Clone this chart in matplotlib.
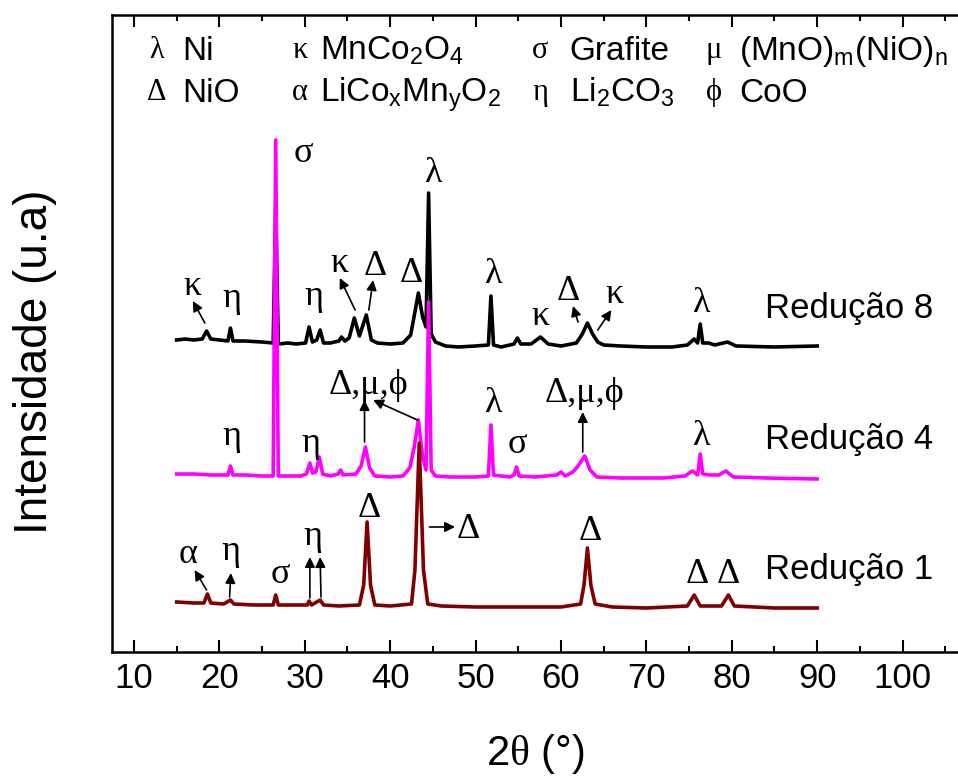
import matplotlib
matplotlib.use("Agg")
import numpy as np
import matplotlib.pyplot as plt
from matplotlib.ticker import MultipleLocator

plt.rcParams["font.family"] = ["Liberation Sans", "DejaVu Sans"]
plt.rcParams["mathtext.fontset"] = "custom"
plt.rcParams["mathtext.rm"] = "Liberation Serif"
plt.rcParams["mathtext.default"] = "regular"

# --- data (2theta in degrees, intensity in a.u.) ---
tt_r8 = [15.0, 16.0, 17.0, 18.0, 18.5, 19.0, 20.0, 21.0, 21.3, 21.6, 23.0, 25.0,
         26.3, 26.6, 26.9, 28.0, 29.0, 30.1, 30.5, 30.9, 31.4, 31.8, 32.2, 33.0,
         34.0, 34.3, 34.7, 35.2, 35.8, 36.4, 37.2, 37.8, 38.5, 40.0, 41.5, 42.4,
         42.9, 43.3, 43.8, 44.2, 44.5, 44.8, 45.3, 46.5, 48.0, 50.0, 51.5, 51.8,
         52.1, 53.0, 54.5, 54.9, 55.3, 56.5, 57.6, 58.5, 60.0, 61.8, 62.5, 63.1,
         63.7, 64.3, 65.0, 67.0, 70.0, 73.0, 74.8, 75.6, 76.0, 76.3, 76.6, 77.3,
         78.0, 79.5, 80.5, 85.0, 90.0]
int_r8 = [6, 7, 6, 7, 15, 7, 6, 5, 18, 5, 5, 4,
          3, 141, 2, 3, 2, 3, 19, 4, 6, 16, 3, 3,
          5, 9, 5, 8, 28, 10, 31, 6, 3, 2, 3, 11,
          34, 53, 29, 19, 153, 12, 4, 0, -1, 0, 1, 50,
          1, -1, 2, 8, 2, 2, 9, 2, 0, 3, 12, 23,
          12, 4, 1, 0, -1, -1, 1, 7, 3, 22, 3, 3,
          1, 4, 0, -1, 0]

tt_r4 = [15.0, 17.0, 19.0, 21.0, 21.3, 21.6, 23.0, 25.0, 26.3, 26.6, 26.9, 28.0,
         29.5, 30.2, 30.6, 30.9, 31.3, 31.7, 32.1, 33.0, 33.9, 34.2, 34.5, 36.0,
         36.6, 37.1, 37.6, 38.2, 40.0, 41.5, 42.3, 42.8, 43.3, 43.8, 44.2, 44.5,
         44.8, 45.3, 47.0, 50.0, 51.5, 51.8, 52.1, 54.0, 54.5, 54.8, 55.1, 57.0,
         59.5, 60.0, 60.5, 61.4, 62.0, 62.8, 63.4, 64.2, 67.0, 72.0, 74.5, 75.4,
         76.0, 76.3, 76.6, 77.5, 78.5, 79.3, 80.2, 84.0, 90.0]
int_r4 = [3, 3, 2, 2, 11, 2, 2, 1, 1, 337, 1, 1,
          1, 3, 14, 4, 5, 20, 3, 1, 3, 7, 2, 3,
          11, 30, 9, 1, 0, 1, 9, 29, 57, 20, 7, 175,
          7, 1, 0, 0, 1, 52, 2, 0, 2, 10, 1, 0,
          2, 5, 1, 5, 11, 21, 7, 0, -1, -1, 1, 6,
          2, 23, 3, 2, 2, 6, 0, -1, -2]

tt_r1 = [15.0, 17.0, 18.2, 18.6, 19.0, 20.5, 21.3, 21.7, 24.0, 26.3, 26.6, 26.9,
         28.0, 30.3, 30.5, 30.8, 31.8, 32.2, 34.0, 36.4, 36.9, 37.3, 37.7, 38.2,
         40.0, 42.5, 42.9, 43.4, 43.9, 44.4, 46.0, 50.0, 55.0, 60.0, 62.3, 62.7,
         63.1, 63.5, 64.0, 66.0, 70.0, 74.8, 75.6, 76.3, 78.8, 79.6, 80.3, 85.0,
         90.0]
int_r1 = [5, 4, 4, 13, 4, 3, 7, 3, 2, 2, 12, 2,
          2, 2, 6, 2, 7, 2, 1, 2, 22, 85, 22, 2,
          1, 3, 37, 164, 37, 3, 1, 0, 0, 0, 3, 22,
          59, 22, 3, 0, -1, 1, 12, 1, 1, 12, 1, -1,
          -1]

offsets = [306, 175, 45]
names = ["Redução 8", "Redução 4", "Redução 1"]
colors = ["black", "#ff00ff", "#800000"]

# peak labels: (text, 2theta, intensity)
labels = [
    ("κ", 16.8, 357), ("η", 21.5, 345), ("σ", 29.8, 490), ("η", 31.1, 347),
    ("κ", 34.1, 380), ("Δ", 38.2, 377), ("Δ", 42.5, 370), ("λ", 45.1, 470),
    ("λ", 52.1, 369), ("κ", 57.6, 327), ("Δ", 60.9, 352), ("κ", 66.3, 349),
    ("λ", 76.5, 340),
    ("η", 21.5, 207), ("η", 30.7, 200), ("Δ,μ,ϕ", 37.4, 258), ("λ", 52.1, 240),
    ("σ", 54.9, 199), ("Δ,μ,ϕ", 62.8, 250), ("λ", 76.5, 207),
    ("α", 16.3, 89), ("η", 21.4, 92), ("σ", 27.1, 69), ("η", 31.0, 107),
    ("Δ", 37.5, 135), ("Δ", 49.2, 114), ("Δ", 63.4, 112), ("Δ", 75.9, 69),
    ("Δ", 79.6, 69),
]
# arrows: (from peak, to label)
arrows = [
    ((18.3, 329), (16.9, 351)), ((35.9, 342), (34.1, 374)),
    ((37.5, 342), (38.0, 372)), ((62.0, 330), (61.4, 346)),
    ((64.3, 322), (65.9, 342)),
    ((37.0, 210), (37.0, 252)), ((43.2, 232), (38.0, 252)),
    ((62.55, 200), (62.55, 240)),
    ((18.5, 62), (17.1, 82)), ((21.2, 55), (21.35, 79)),
    ((30.6, 54), (30.6, 95)), ((31.9, 55), (31.8, 95)),
    ((44.6, 125), (47.6, 125)),
]

# phase key at the top: (symbol, name)
key_symbols = ["λ", "κ", "σ", "μ", "Δ", "α", "η", "ϕ"]
key_names = ["Ni", "MnCo$_2$O$_4$", "Grafite", "(MnO)$_m$(NiO)$_n$",
             "NiO", "LiCo$_x$Mn$_y$O$_2$", "Li$_2$CO$_3$", "CoO"]

fig = plt.figure(figsize=(9.58, 7.81), dpi=100)
ax = fig.add_axes([112 / 958, 129 / 781, 876 / 958, 637 / 781])

traces = [(tt_r8, int_r8), (tt_r4, int_r4), (tt_r1, int_r1)]
for i, (tt, inten) in enumerate(traces):
    ax.plot(tt, np.array(inten) + offsets[i], color=colors[i], lw=2.6,
            solid_joinstyle="round", zorder=2 + i)
    ax.text(83.85, offsets[i] + 28, names[i], fontsize=25, va="baseline")

for txt, x, y in labels:
    ax.text(x, y, txt, fontsize=26, family="Liberation Serif", ha="center", va="baseline")

for (x0, y0), (x1, y1) in arrows:
    ax.annotate("", xy=(x1, y1), xytext=(x0, y0),
                arrowprops=dict(arrowstyle="-|>", color="black", lw=1.2,
                                mutation_scale=15, shrinkA=0, shrinkB=0))

# key: two rows, four columns
sym_x = [12.7, 29.4, 57.6, 77.9]
name_x = [15.7, 31.8, 61.0, 80.9]
row_y = [592, 550]
for k in range(8):
    r, c = divmod(k, 4)
    ax.text(sym_x[c], row_y[r] + 2, key_symbols[k], fontsize=22,
            family="Liberation Serif", ha="center", va="baseline")
    ax.text(name_x[c], row_y[r], key_names[k], fontsize=24, va="baseline")

ax.set_xlim(7.43, 110)
ax.set_ylim(0, 637)
ax.set_xticks(range(10, 101, 10))
ax.xaxis.set_minor_locator(MultipleLocator(5))
ax.set_yticks([])
ax.tick_params(which="both", direction="in", top=True, width=1.5, labelsize=25, pad=7)
ax.tick_params(which="major", length=8.5)
ax.tick_params(which="minor", length=4.5)
for s in ax.spines.values():
    s.set_linewidth(1.8)

fig.text(35 / 958, 1 - 362 / 781, "Intensidade (u.a)", rotation=90, fontsize=33,
         ha="center", va="center")
fig.text(535 / 958, 1 - 754 / 781, r"2$\mathrm{\theta}$ (°)", fontsize=30,
         ha="center", va="center")

fig.savefig("out.png", dpi=100)
